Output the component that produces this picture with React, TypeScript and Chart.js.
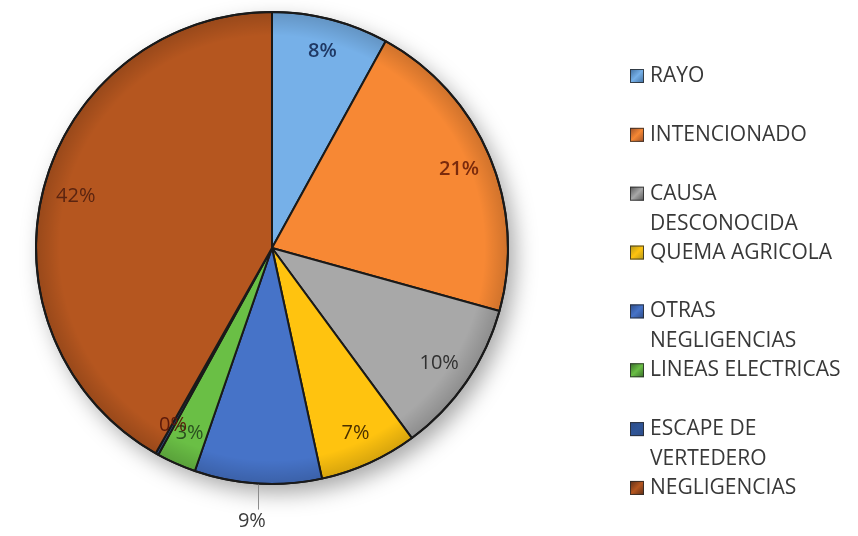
import React, { useEffect, useRef } from "react";
import { Chart, registerables } from "chart.js";

Chart.register(...registerables);

// ---- data ----
const categories = [
  "RAYO",
  "INTENCIONADO",
  "CAUSA DESCONOCIDA",
  "QUEMA AGRICOLA",
  "OTRAS NEGLIGENCIAS",
  "LINEAS ELECTRICAS",
  "ESCAPE DE VERTEDERO",
  "NEGLIGENCIAS",
];
const legendLines = [
  ["RAYO"],
  ["INTENCIONADO"],
  ["CAUSA", "DESCONOCIDA"],
  ["QUEMA AGRICOLA"],
  ["OTRAS", "NEGLIGENCIAS"],
  ["LINEAS ELECTRICAS"],
  ["ESCAPE DE", "VERTEDERO"],
  ["NEGLIGENCIAS"],
];
const shares = [8.0, 21.3, 10.6, 6.7, 8.7, 2.7, 0.2, 41.8];
const percentLabels = ["8%", "21%", "10%", "7%", "9%", "3%", "0%", "42%"];

// ---- styles ----
const sliceColors = [
  "#76b0e8",
  "#f78834",
  "#a8a8a8",
  "#ffc30f",
  "#4673c8",
  "#6abf45",
  "#2f5597",
  "#b5561f",
];
const legendColors = [
  "#3f6d9e",
  "#9c4f27",
  "#555555",
  "#b0961a",
  "#2d4c88",
  "#386b2a",
  "#2d4c88",
  "#5a2d18",
];
const labelColors = [
  "#1f3864",
  "#7a2a0c",
  "#303030",
  "#4a3000",
  "#3c3c3c",
  "#2a5020",
  "#5c1a0a",
  "#5a2410",
];
const labelBold = [true, true, false, false, false, false, false, false];
const FONT = "'Open Sans', 'DejaVu Sans', sans-serif";

const shadowPlugin = {
  id: "pieShadow",
  beforeDatasetsDraw(chart: any) {
    const arc = chart.getDatasetMeta(0).data[0];
    if (!arc) return;
    const { x, y, outerRadius } = arc.getProps(["x", "y", "outerRadius"], true);
    const ctx = chart.ctx;
    ctx.save();
    ctx.shadowColor = "rgba(0,0,0,0.35)";
    ctx.shadowBlur = 22;
    ctx.shadowOffsetX = 7;
    ctx.shadowOffsetY = 9;
    ctx.fillStyle = "#ffffff";
    ctx.beginPath();
    ctx.arc(x, y, outerRadius, 0, Math.PI * 2);
    ctx.fill();
    ctx.restore();
  },
  afterDatasetsDraw(chart: any) {
    const arc = chart.getDatasetMeta(0).data[0];
    if (!arc) return;
    const { x, y, outerRadius } = arc.getProps(["x", "y", "outerRadius"], true);
    const ctx = chart.ctx;
    ctx.save();
    const g = ctx.createRadialGradient(x, y, outerRadius * 0.9, x, y, outerRadius);
    g.addColorStop(0, "rgba(0,0,0,0)");
    g.addColorStop(1, "rgba(0,0,0,0.16)");
    ctx.fillStyle = g;
    ctx.beginPath();
    ctx.arc(x, y, outerRadius, 0, Math.PI * 2);
    ctx.fill();
    ctx.lineWidth = 2;
    ctx.strokeStyle = "#1a1a1a";
    ctx.stroke();
    ctx.restore();
  },
};

const labelPlugin = {
  id: "sliceLabels",
  afterDatasetsDraw(chart: any) {
    const meta = chart.getDatasetMeta(0);
    const ctx = chart.ctx;
    ctx.save();
    ctx.textAlign = "center";
    ctx.textBaseline = "middle";
    meta.data.forEach((arc: any, i: number) => {
      const { x, y, startAngle, endAngle, outerRadius } = arc.getProps(
        ["x", "y", "startAngle", "endAngle", "outerRadius"],
        true
      );
      const mid = (startAngle + endAngle) / 2;
      ctx.font = `${labelBold[i] ? "600 " : ""}20px ${FONT}`;
      ctx.fillStyle = labelColors[i];
      if (i === 4) {
        // callout label below the pie
        const ex = x + Math.cos(mid) * outerRadius;
        const ey = y + Math.sin(mid) * outerRadius;
        ctx.strokeStyle = "#8c8c8c";
        ctx.lineWidth = 1;
        ctx.beginPath();
        ctx.moveTo(Math.round(ex) + 0.5, ey + 1);
        ctx.lineTo(Math.round(ex) + 0.5, ey + 26);
        ctx.stroke();
        ctx.fillText(percentLabels[i], ex - 6, ey + 38);
        return;
      }
      const r = outerRadius * 0.86;
      ctx.fillText(percentLabels[i], x + Math.cos(mid) * r, y + Math.sin(mid) * r);
    });
    ctx.restore();
  },
};

const legendPlugin = {
  id: "sideLegend",
  afterDraw(chart: any) {
    const ctx = chart.ctx;
    ctx.save();
    ctx.font = `21px ${FONT}`;
    ctx.textBaseline = "middle";
    ctx.textAlign = "left";
    const x0 = 630;
    const top = 76;
    const step = 58.85;
    legendLines.forEach((lines, i) => {
      const cy = top + i * step;
      const s = 14;
      const g = ctx.createLinearGradient(x0, cy - s / 2, x0 + s, cy + s / 2);
      g.addColorStop(0, legendColors[i]);
      g.addColorStop(0.5, sliceColors[i]);
      g.addColorStop(1, legendColors[i]);
      ctx.fillStyle = g;
      ctx.fillRect(x0, cy - s / 2, s, s);
      ctx.strokeStyle = "rgba(40,40,40,0.8)";
      ctx.lineWidth = 1;
      ctx.strokeRect(x0 + 0.5, cy - s / 2 + 0.5, s - 1, s - 1);
      ctx.fillStyle = "#383838";
      lines.forEach((t, k) => ctx.fillText(t, x0 + 20, cy + k * 30));
    });
    ctx.restore();
  },
};

export default function App() {
  const ref = useRef<HTMLCanvasElement | null>(null);
  useEffect(() => {
    document.body.style.margin = "0";
    document.body.style.overflow = "hidden";
    if (!ref.current) return;
    const chart = new Chart(ref.current, {
      type: "pie",
      data: {
        labels: categories,
        datasets: [
          {
            data: shares,
            backgroundColor: sliceColors,
            borderColor: "#1a1a1a",
            borderWidth: 2,
          },
        ],
      },
      options: {
        responsive: false,
        animation: false,
        layout: { padding: { left: 35, top: 11, right: 349, bottom: 51 } },
        plugins: {
          legend: { display: false },
          tooltip: { enabled: false },
        },
      },
      plugins: [shadowPlugin, labelPlugin, legendPlugin],
    });
    return () => chart.destroy();
  }, []);
  return (
    <div style={{ position: "fixed", left: 0, top: 0, width: 858, height: 536, background: "#fff" }}>
      <canvas ref={ref} width={858} height={536} style={{ display: "block" }} />
    </div>
  );
}
